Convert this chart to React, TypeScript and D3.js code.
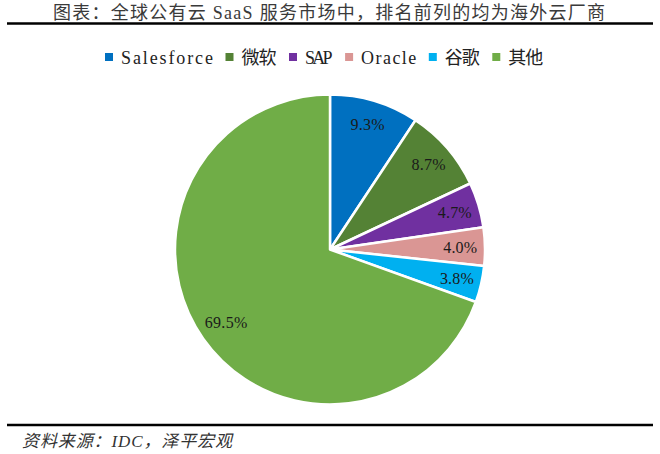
import React from "react";
import * as d3 from "d3";

const categories = ["Salesforce", "微软", "SAP", "Oracle", "谷歌", "其他"];
const shares = [9.3, 8.7, 4.7, 4.0, 3.8, 69.5];
const colors = ["#0070C0", "#548235", "#7030A0", "#DA9694", "#00B0F0", "#70AD47"];
const title = "图表：全球公有云 SaaS 服务市场中，排名前列的均为海外云厂商";
const source = "资料来源：IDC，泽平宏观";

const W = 660, H = 454;
const cx = 330, cy = 249.5, R = 155;
const font = "'Liberation Serif', 'Noto Sans CJK SC', serif";

const isCJK = (ch: string) => /[\u3000-\u9fff\uff00-\uffef]/.test(ch);
const textW = (s: string, latin: number, cjk: number) => {
  let w = 0;
  for (const ch of s) w += isCJK(ch) ? cjk : latin;
  return w;
};

export default function App() {
  const data = categories.map((c, i) => ({ c, v: shares[i], color: colors[i] }));
  const pie = d3.pie<any>().value((d) => d.v).sort(null);
  const arcs = pie(data);
  const arc = d3.arc<any>().innerRadius(0).outerRadius(R);
  const labelArc = d3.arc<any>().innerRadius(R * 0.84).outerRadius(R * 0.84);
  const bigLabelArc = d3.arc<any>().innerRadius(R * 0.82).outerRadius(R * 0.82);

  let lx = 105;
  const legend = data.map((d) => {
    const w = textW(d.c, 9.2, 17.5);
    const item = { ...d, x: lx, w };
    lx += 16 + w + 12.5;
    return item;
  });

  return (
    <svg width={W} height={H} style={{ position: "absolute", left: 0, top: 0, background: "#fff" }}>
      <text x={53} y={19} textLength={552} lengthAdjust="spacing" fontSize={18} fontFamily={font} fill="#3a3a3a">
        {title}
      </text>
      <line x1={7} x2={653} y1={23.5} y2={23.5} stroke="#000" strokeWidth={2.6} />
      {legend.map((d) => (
        <g key={d.c}>
          <rect x={d.x} y={53} width={8} height={8} fill={d.color} />
          <text x={d.x + 16} y={64} textLength={d.w} lengthAdjust="spacing" fontSize={18} fontFamily={font} fill="#222">
            {d.c}
          </text>
        </g>
      ))}
      <g transform={`translate(${cx},${cy})`}>
        {arcs.map((a, i) => (
          <path key={i} d={arc(a) as string} fill={a.data.color} stroke="#fff" strokeWidth={2.5} strokeLinejoin="round" />
        ))}
        {arcs.map((a, i) => {
          const [x, y] = (i === 5 ? bigLabelArc : labelArc).centroid(a);
          const s = a.data.v.toFixed(1) + "%";
          return (
            <text key={"l" + i} x={x} y={y} textAnchor="middle" dominantBaseline="central" textLength={s.length * 8.5} lengthAdjust="spacing" fontSize={16} fontFamily={font} fill="#1a1a1a">
              {s}
            </text>
          );
        })}
      </g>
      <line x1={7} x2={653} y1={425} y2={425} stroke="#000" strokeWidth={2.6} />
      <text x={22} y={447} textLength={210} lengthAdjust="spacing" fontSize={17} fontStyle="italic" fontFamily={font} fill="#333">
        {source}
      </text>
    </svg>
  );
}
